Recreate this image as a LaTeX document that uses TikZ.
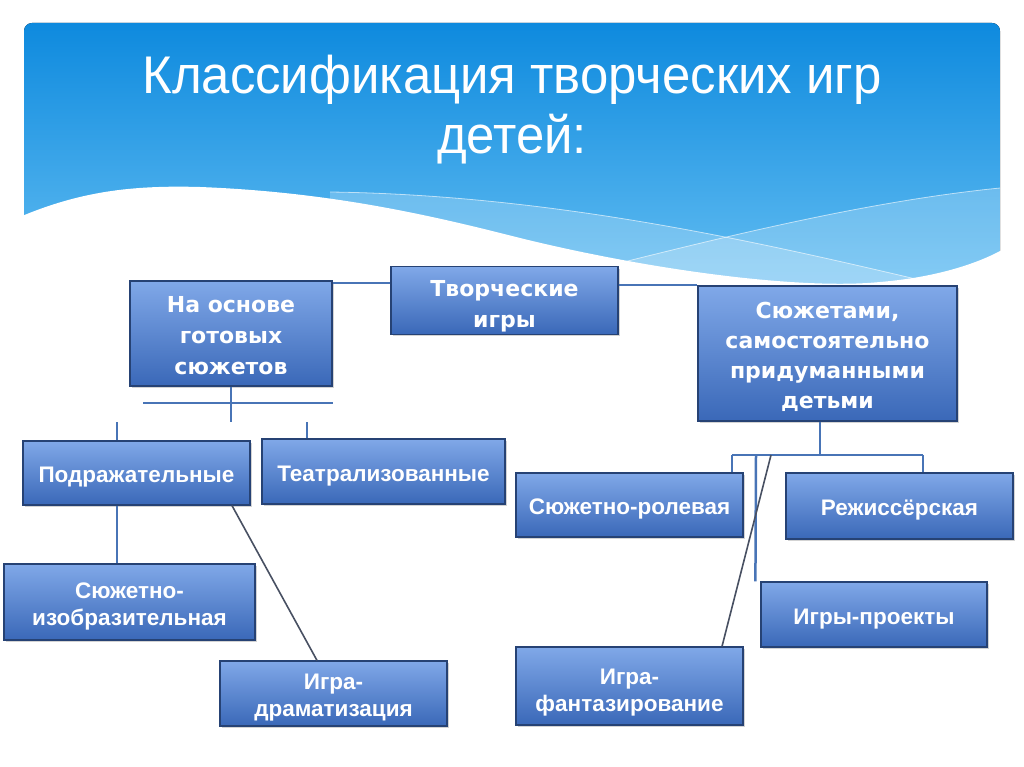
\documentclass[tikz,border=0pt]{standalone}
\usepackage{fontspec}
\setmainfont{Liberation Sans}
\newfontfamily\widefont{DejaVu Sans}
\usetikzlibrary{shadows}

\definecolor{bannertop}{RGB}{14,138,222}
\definecolor{bannerbot}{RGB}{100,190,242}
\definecolor{boxtop}{RGB}{128,168,232}
\definecolor{boxbot}{RGB}{58,104,184}
\definecolor{boxedge}{RGB}{38,66,116}
\definecolor{linkblue}{RGB}{72,116,182}
\definecolor{slantgray}{RGB}{72,80,98}

% invisible strut to push box text down a little
\newcommand{\padtop}[1]{\rule{0pt}{#1}}

\begin{document}
\begin{tikzpicture}[x=1pt, y=-1pt,
    gamebox/.style ={draw=boxedge, line width=1.2pt, top color=boxtop, bottom color=boxbot,
                     text=white, align=center, inner sep=2pt,
                     font=\bfseries\fontsize{22.5}{27}\selectfont,
                     execute at begin node={\padtop{24pt}},
                     drop shadow={shadow xshift=2pt, shadow yshift=-2pt, opacity=0.35}},
    widebox/.style ={gamebox, font=\widefont\bfseries\fontsize{22}{31}\selectfont},
    link/.style ={draw=linkblue, line width=2.5pt},
    slant/.style ={draw=slantgray, line width=1.6pt},
    streak/.style ={draw=white, opacity=0.6, line width=0.8pt}]
   \useasboundingbox (0,0) rectangle (1024,767);
   % banner
   \fill[rounded corners=8pt, top color=bannertop, bottom color=bannerbot] (24,23) rectangle (1000,292);
   \fill[white, opacity=0.22] (330,192) .. controls (550,195) and (750,240) .. (920,280)
        -- (1000,280) -- (1000,292) -- (330,292) -- cycle;
   \fill[white, opacity=0.22] (600,268) .. controls (750,230) and (880,200) .. (1000,188)
        -- (1000,292) -- (600,292) -- cycle;
   \draw[streak] (330,192) .. controls (550,195) and (750,240) .. (920,280);
   \draw[streak] (600,268) .. controls (750,230) and (880,200) .. (1000,188);
   \fill[white] (22,216) .. controls (80,192) and (130,185) .. (200,187)
        .. controls (330,192) and (430,215) .. (520,238)
        .. controls (650,270) and (800,290) .. (880,282)
        .. controls (940,277) and (980,262) .. (1002,250) -- (1002,296) -- (22,296) -- cycle;
   \node[text=white, align=center, font=\fontsize{53}{60}\selectfont, xscale=0.96, transform shape]
        (title) at (512,110) {Классификация творческих игр\\детей:};

   % boxes
   \node[widebox, minimum width=202, minimum height=105] (osnova) at (231,333.5) {\padtop{20pt}На основе\\готовых\\сюжетов};
   \node[widebox, minimum width=227, minimum height=65] (tvorch) at (504.5,300.5) {\padtop{28pt}Творческие\\игры};
   \node[widebox, minimum width=259, minimum height=135,
         font=\widefont\bfseries\fontsize{22}{30}\selectfont] (sam) at (827.5,353.5) {\padtop{24pt}Сюжетами,\\самостоятельно\\придуманными\\детьми};
   \node[gamebox, minimum width=227, minimum height=64] (podr) at (136.5,473) {Подражательные};
   \node[gamebox, minimum width=243, minimum height=65] (teatr) at (383.5,471.5) {Театрализованные};
   \node[gamebox, minimum width=227, minimum height=64] (rol) at (629.5,505) {Сюжетно-ролевая};
   \node[gamebox, minimum width=227, minimum height=66] (rezh) at (899.5,506) {Режиссёрская};
   \node[gamebox, minimum width=251, minimum height=76] (izobr) at (129.5,602) {\padtop{24pt}Сюжетно-\\изобразительная};
   \node[gamebox, minimum width=227, minimum height=65] (dram) at (333.5,693.5) {\padtop{24pt}Игра-\\драматизация};
   \node[gamebox, minimum width=226, minimum height=65] (proekt) at (874,614.5) {Игры-проекты};
   \node[gamebox, minimum width=227, minimum height=78] (fant) at (629.5,686) {\padtop{28pt}Игра-\\фантазирование};

   % left branch
   \coordinate (barL) at (143,403);
   \coordinate (barR) at (333,403);
   \coordinate (tickL) at (117,422);
   \coordinate (tickR) at (307,422);
   \draw[link] (tvorch.west |- 0,283) -- (osnova.east |- 0,283);
   \draw[link] (osnova.south) -- (osnova.south |- tickL);
   \draw[link] (barL) -- (barR);
   \draw[link] (tickL) -- (podr.north -| tickL);
   \draw[link] (tickR) -- (teatr.north -| tickR);
   \draw[link] (podr.south -| tickL) -- (izobr.north -| tickL);
   \draw[slant] (podr.south -| 232,0) -- (dram.north -| 317,0);

   % right branch
   \coordinate (hubL) at (732,455);
   \coordinate (hubR) at (923,455);
   \draw[link] (tvorch.east |- 0,285) -- (sam.west |- 0,285);
   \draw[link] (sam.south -| 820,0) -- (820,455);
   \draw[link] (hubL) -- (hubR);
   \draw[link] (hubL) -- (rol.north -| hubL);
   \draw[link] (hubR) -- (rezh.north -| hubR);
   \draw[link] (756,455) -- ([xshift=-5pt]proekt.north west);
   \draw[slant] (771,455) -- (fant.north -| 722,0);
 \end{tikzpicture}
\end{document}
